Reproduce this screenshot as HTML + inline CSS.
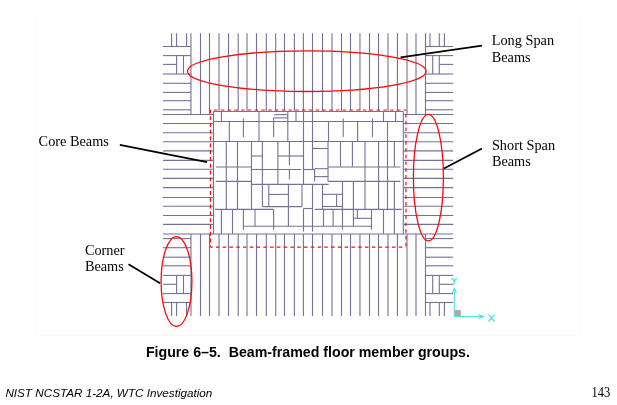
<!DOCTYPE html>
<html><head><meta charset="utf-8"><style>
html,body{margin:0;padding:0;background:#fff;}
body{width:617px;height:405px;overflow:hidden;position:relative;}
svg{position:absolute;left:0;top:0;will-change:transform;}
</style></head><body>
<svg width="617" height="405" viewBox="0 0 617 405">
<path d="M36.5 14V335.4H579.3V13.3" fill="none" stroke="#f9f9f9" stroke-width="0.7"/>
<g stroke="#73709a" stroke-width="1.1" fill="none">
<line x1="190.95" y1="33.2" x2="190.95" y2="114.5"/>
<line x1="190.95" y1="234.0" x2="190.95" y2="316.0"/>
<line x1="200.5" y1="33.2" x2="200.5" y2="114.5"/>
<line x1="200.5" y1="234.0" x2="200.5" y2="316.0"/>
<line x1="209.5" y1="33.2" x2="209.5" y2="114.5"/>
<line x1="209.5" y1="234.0" x2="209.5" y2="316.0"/>
<line x1="219.0" y1="33.2" x2="219.0" y2="111.5"/>
<line x1="219.0" y1="234.0" x2="219.0" y2="316.0"/>
<line x1="228.5" y1="33.2" x2="228.5" y2="111.5"/>
<line x1="228.5" y1="234.0" x2="228.5" y2="316.0"/>
<line x1="238.2" y1="33.2" x2="238.2" y2="111.5"/>
<line x1="238.2" y1="234.0" x2="238.2" y2="316.0"/>
<line x1="247.0" y1="33.2" x2="247.0" y2="111.5"/>
<line x1="247.0" y1="234.0" x2="247.0" y2="316.0"/>
<line x1="256.5" y1="33.2" x2="256.5" y2="111.5"/>
<line x1="256.5" y1="234.0" x2="256.5" y2="316.0"/>
<line x1="266.3" y1="33.2" x2="266.3" y2="111.5"/>
<line x1="266.3" y1="234.0" x2="266.3" y2="316.0"/>
<line x1="275.7" y1="33.2" x2="275.7" y2="111.5"/>
<line x1="275.7" y1="234.0" x2="275.7" y2="316.0"/>
<line x1="284.5" y1="33.2" x2="284.5" y2="111.5"/>
<line x1="284.5" y1="234.0" x2="284.5" y2="316.0"/>
<line x1="294.4" y1="33.2" x2="294.4" y2="111.5"/>
<line x1="294.4" y1="234.0" x2="294.4" y2="316.0"/>
<line x1="303.4" y1="33.2" x2="303.4" y2="111.5"/>
<line x1="303.4" y1="234.0" x2="303.4" y2="316.0"/>
<line x1="312.5" y1="33.2" x2="312.5" y2="111.5"/>
<line x1="312.5" y1="234.0" x2="312.5" y2="316.0"/>
<line x1="322.5" y1="33.2" x2="322.5" y2="111.5"/>
<line x1="322.5" y1="234.0" x2="322.5" y2="316.0"/>
<line x1="332.0" y1="33.2" x2="332.0" y2="111.5"/>
<line x1="332.0" y1="234.0" x2="332.0" y2="316.0"/>
<line x1="341.5" y1="33.2" x2="341.5" y2="111.5"/>
<line x1="341.5" y1="234.0" x2="341.5" y2="316.0"/>
<line x1="350.5" y1="33.2" x2="350.5" y2="111.5"/>
<line x1="350.5" y1="234.0" x2="350.5" y2="316.0"/>
<line x1="359.95" y1="33.2" x2="359.95" y2="111.5"/>
<line x1="359.95" y1="234.0" x2="359.95" y2="316.0"/>
<line x1="369.5" y1="33.2" x2="369.5" y2="111.5"/>
<line x1="369.5" y1="234.0" x2="369.5" y2="316.0"/>
<line x1="378.5" y1="33.2" x2="378.5" y2="111.5"/>
<line x1="378.5" y1="234.0" x2="378.5" y2="316.0"/>
<line x1="388.0" y1="33.2" x2="388.0" y2="111.5"/>
<line x1="388.0" y1="234.0" x2="388.0" y2="316.0"/>
<line x1="397.4" y1="33.2" x2="397.4" y2="111.5"/>
<line x1="397.4" y1="234.0" x2="397.4" y2="316.0"/>
<line x1="407.0" y1="33.2" x2="407.0" y2="114.5"/>
<line x1="407.0" y1="234.0" x2="407.0" y2="316.0"/>
<line x1="416.0" y1="33.2" x2="416.0" y2="114.5"/>
<line x1="416.0" y1="234.0" x2="416.0" y2="316.0"/>
<line x1="425.5" y1="33.2" x2="425.5" y2="114.5"/>
<line x1="425.5" y1="234.0" x2="425.5" y2="316.0"/>
<line x1="163.0" y1="46.5" x2="190.95" y2="46.5"/>
<line x1="425.5" y1="46.5" x2="453.2" y2="46.5"/>
<line x1="163.0" y1="55.6" x2="190.95" y2="55.6"/>
<line x1="425.5" y1="55.6" x2="453.2" y2="55.6"/>
<line x1="163.0" y1="74.0" x2="190.95" y2="74.0"/>
<line x1="425.5" y1="74.0" x2="453.2" y2="74.0"/>
<line x1="163.0" y1="83.3" x2="190.95" y2="83.3"/>
<line x1="425.5" y1="83.3" x2="453.2" y2="83.3"/>
<line x1="163.0" y1="92.4" x2="190.95" y2="92.4"/>
<line x1="425.5" y1="92.4" x2="453.2" y2="92.4"/>
<line x1="163.0" y1="100.7" x2="190.95" y2="100.7"/>
<line x1="425.5" y1="100.7" x2="453.2" y2="100.7"/>
<line x1="163.0" y1="109.8" x2="190.95" y2="109.8"/>
<line x1="425.5" y1="109.8" x2="453.2" y2="109.8"/>
<line x1="163.0" y1="238.6" x2="190.95" y2="238.6"/>
<line x1="425.5" y1="238.6" x2="453.2" y2="238.6"/>
<line x1="163.0" y1="247.7" x2="190.95" y2="247.7"/>
<line x1="425.5" y1="247.7" x2="453.2" y2="247.7"/>
<line x1="163.0" y1="257.2" x2="190.95" y2="257.2"/>
<line x1="425.5" y1="257.2" x2="453.2" y2="257.2"/>
<line x1="163.0" y1="265.8" x2="190.95" y2="265.8"/>
<line x1="425.5" y1="265.8" x2="453.2" y2="265.8"/>
<line x1="163.0" y1="275.4" x2="190.95" y2="275.4"/>
<line x1="425.5" y1="275.4" x2="453.2" y2="275.4"/>
<line x1="163.0" y1="293.6" x2="190.95" y2="293.6"/>
<line x1="425.5" y1="293.6" x2="453.2" y2="293.6"/>
<line x1="163.0" y1="302.5" x2="190.95" y2="302.5"/>
<line x1="425.5" y1="302.5" x2="453.2" y2="302.5"/>
<line x1="163.0" y1="114.5" x2="213.5" y2="114.5"/>
<line x1="403.3" y1="114.5" x2="453.2" y2="114.5"/>
<line x1="163.0" y1="123.5" x2="213.5" y2="123.5"/>
<line x1="403.3" y1="123.5" x2="453.2" y2="123.5"/>
<line x1="163.0" y1="132.7" x2="213.5" y2="132.7"/>
<line x1="403.3" y1="132.7" x2="453.2" y2="132.7"/>
<line x1="163.0" y1="141.7" x2="213.5" y2="141.7"/>
<line x1="403.3" y1="141.7" x2="453.2" y2="141.7"/>
<line x1="163.0" y1="150.9" x2="213.5" y2="150.9"/>
<line x1="403.3" y1="150.9" x2="453.2" y2="150.9"/>
<line x1="163.0" y1="160.4" x2="213.5" y2="160.4"/>
<line x1="403.3" y1="160.4" x2="453.2" y2="160.4"/>
<line x1="163.0" y1="169.3" x2="213.5" y2="169.3"/>
<line x1="403.3" y1="169.3" x2="453.2" y2="169.3"/>
<line x1="163.0" y1="178.4" x2="213.5" y2="178.4"/>
<line x1="403.3" y1="178.4" x2="453.2" y2="178.4"/>
<line x1="163.0" y1="187.6" x2="213.5" y2="187.6"/>
<line x1="403.3" y1="187.6" x2="453.2" y2="187.6"/>
<line x1="163.0" y1="197.5" x2="213.5" y2="197.5"/>
<line x1="403.3" y1="197.5" x2="453.2" y2="197.5"/>
<line x1="163.0" y1="206.3" x2="213.5" y2="206.3"/>
<line x1="403.3" y1="206.3" x2="453.2" y2="206.3"/>
<line x1="163.0" y1="215.5" x2="213.5" y2="215.5"/>
<line x1="403.3" y1="215.5" x2="453.2" y2="215.5"/>
<line x1="163.0" y1="224.4" x2="213.5" y2="224.4"/>
<line x1="403.3" y1="224.4" x2="453.2" y2="224.4"/>
<line x1="163.0" y1="234.0" x2="453.2" y2="234.0"/>
<line x1="163.0" y1="64.4" x2="176.6" y2="64.4"/>
<line x1="439.3" y1="64.4" x2="453.2" y2="64.4"/>
<line x1="163.0" y1="284.3" x2="176.7" y2="284.3"/>
<line x1="439.3" y1="284.3" x2="453.2" y2="284.3"/>
<line x1="171.6" y1="33.2" x2="171.6" y2="46.5"/>
<line x1="171.6" y1="302.5" x2="171.6" y2="316.0"/>
<line x1="176.6" y1="33.2" x2="176.6" y2="46.5"/>
<line x1="176.6" y1="302.5" x2="176.6" y2="316.0"/>
<line x1="186.6" y1="33.2" x2="186.6" y2="46.5"/>
<line x1="186.6" y1="302.5" x2="186.6" y2="316.0"/>
<line x1="430.0" y1="33.2" x2="430.0" y2="46.5"/>
<line x1="430.0" y1="302.5" x2="430.0" y2="316.0"/>
<line x1="439.3" y1="33.2" x2="439.3" y2="46.5"/>
<line x1="439.3" y1="302.5" x2="439.3" y2="316.0"/>
<line x1="444.4" y1="33.2" x2="444.4" y2="46.5"/>
<line x1="444.4" y1="302.5" x2="444.4" y2="316.0"/>
<line x1="176.6" y1="55.6" x2="176.6" y2="74.1"/>
<line x1="176.6" y1="275.4" x2="176.6" y2="293.6"/>
<line x1="183.5" y1="55.6" x2="183.5" y2="74.1"/>
<line x1="183.5" y1="275.4" x2="183.5" y2="293.6"/>
<line x1="432.7" y1="55.6" x2="432.7" y2="74.1"/>
<line x1="432.7" y1="275.4" x2="432.7" y2="293.6"/>
<line x1="439.3" y1="55.6" x2="439.3" y2="74.1"/>
<line x1="439.3" y1="275.4" x2="439.3" y2="293.6"/>
<line x1="213.5" y1="111.5" x2="403.3" y2="111.5"/>
<line x1="213.5" y1="111.5" x2="213.5" y2="234.0"/>
<line x1="403.3" y1="111.5" x2="403.3" y2="234.0"/>
<line x1="213.5" y1="121.5" x2="403.3" y2="121.5"/>
<line x1="213.5" y1="141.5" x2="403.3" y2="141.5"/>
<line x1="221.4" y1="111.5" x2="221.4" y2="121.2"/>
<line x1="259.0" y1="111.5" x2="259.0" y2="141.5"/>
<line x1="287.8" y1="111.5" x2="287.8" y2="141.3"/>
<line x1="296.0" y1="111.5" x2="296.0" y2="121.2"/>
<line x1="383.5" y1="111.5" x2="383.5" y2="121.2"/>
<line x1="395.6" y1="111.5" x2="395.6" y2="121.2"/>
<line x1="303.5" y1="111.5" x2="303.5" y2="184.4"/>
<line x1="312.5" y1="111.5" x2="312.5" y2="169.5"/>
<line x1="274.3" y1="114.7" x2="287.8" y2="114.7"/>
<line x1="273.6" y1="117.9" x2="287.8" y2="117.9"/>
<line x1="229.3" y1="121.2" x2="229.3" y2="141.3"/>
<line x1="243.4" y1="118.4" x2="243.4" y2="136.9"/>
<line x1="273.6" y1="117.9" x2="273.6" y2="136.9"/>
<line x1="328.5" y1="121.5" x2="328.5" y2="141.5"/>
<line x1="328.0" y1="141.5" x2="328.0" y2="181.4"/>
<line x1="343.2" y1="118.4" x2="343.2" y2="136.9"/>
<line x1="357.6" y1="121.2" x2="357.6" y2="141.3"/>
<line x1="372.5" y1="118.4" x2="372.5" y2="136.8"/>
<line x1="387.5" y1="121.2" x2="387.5" y2="209.4"/>
<line x1="226.3" y1="141.3" x2="226.3" y2="209.4"/>
<line x1="237.5" y1="141.3" x2="237.5" y2="209.4"/>
<line x1="251.5" y1="141.3" x2="251.5" y2="209.4"/>
<line x1="262.4" y1="141.3" x2="262.4" y2="206.6"/>
<line x1="277.9" y1="141.3" x2="277.9" y2="184.4"/>
<line x1="289.4" y1="141.3" x2="289.4" y2="165.2"/>
<line x1="289.4" y1="169.5" x2="289.4" y2="179.6"/>
<line x1="340.5" y1="141.3" x2="340.5" y2="166.5"/>
<line x1="352.4" y1="141.3" x2="352.4" y2="166.5"/>
<line x1="365.0" y1="141.3" x2="365.0" y2="209.4"/>
<line x1="378.6" y1="141.3" x2="378.6" y2="209.4"/>
<line x1="394.4" y1="141.3" x2="394.4" y2="166.5"/>
<line x1="251.5" y1="156.0" x2="262.4" y2="156.0"/>
<line x1="277.9" y1="156.0" x2="303.5" y2="156.0"/>
<line x1="312.5" y1="148.5" x2="328.0" y2="148.5"/>
<line x1="215.9" y1="167.0" x2="251.5" y2="167.0"/>
<line x1="328.0" y1="167.0" x2="400.5" y2="167.0"/>
<line x1="251.5" y1="169.5" x2="301.0" y2="169.5"/>
<line x1="303.5" y1="169.5" x2="314.6" y2="169.5"/>
<line x1="314.6" y1="168.7" x2="328.2" y2="168.7"/>
<line x1="314.6" y1="176.6" x2="328.2" y2="176.6"/>
<line x1="314.6" y1="168.7" x2="314.6" y2="181.4"/>
<line x1="215.9" y1="181.4" x2="251.5" y2="181.4"/>
<line x1="328.2" y1="181.4" x2="400.3" y2="181.4"/>
<line x1="251.5" y1="184.4" x2="328.7" y2="184.4"/>
<line x1="268.8" y1="184.4" x2="268.8" y2="206.6"/>
<line x1="288.4" y1="184.4" x2="288.4" y2="226.2"/>
<line x1="302.0" y1="184.4" x2="302.0" y2="206.6"/>
<line x1="312.5" y1="184.4" x2="312.5" y2="231.5"/>
<line x1="322.5" y1="184.4" x2="322.5" y2="209.4"/>
<line x1="342.5" y1="181.4" x2="342.5" y2="229.7"/>
<line x1="336.6" y1="194.3" x2="336.6" y2="206.4"/>
<line x1="353.4" y1="181.4" x2="353.4" y2="226.2"/>
<line x1="394.4" y1="181.4" x2="394.4" y2="234.0"/>
<line x1="268.8" y1="194.4" x2="288.4" y2="194.4"/>
<line x1="322.5" y1="194.3" x2="342.5" y2="194.3"/>
<line x1="262.4" y1="206.6" x2="302.0" y2="206.6"/>
<line x1="322.5" y1="206.5" x2="342.5" y2="206.5"/>
<line x1="215.0" y1="209.4" x2="273.6" y2="209.4"/>
<line x1="303.5" y1="208.5" x2="312.5" y2="208.5"/>
<line x1="314.8" y1="209.4" x2="401.8" y2="209.4"/>
<line x1="221.4" y1="209.4" x2="221.4" y2="234.0"/>
<line x1="232.5" y1="209.4" x2="232.5" y2="234.0"/>
<line x1="243.4" y1="209.3" x2="243.4" y2="229.7"/>
<line x1="255.0" y1="209.3" x2="255.0" y2="226.2"/>
<line x1="273.6" y1="209.4" x2="273.6" y2="229.7"/>
<line x1="303.5" y1="208.5" x2="303.5" y2="231.5"/>
<line x1="323.5" y1="209.4" x2="323.5" y2="226.2"/>
<line x1="333.1" y1="209.4" x2="333.1" y2="226.2"/>
<line x1="357.4" y1="209.4" x2="357.4" y2="218.3"/>
<line x1="371.5" y1="209.4" x2="371.5" y2="229.7"/>
<line x1="383.5" y1="209.4" x2="383.5" y2="234.0"/>
<line x1="243.4" y1="226.2" x2="371.5" y2="226.2"/>
<line x1="353.4" y1="218.3" x2="371.5" y2="218.3"/>
</g>
<g fill="none" stroke="#ff0808" stroke-width="1.3">
<g stroke-dasharray="3.5 3.275" stroke-width="1.2">
<line x1="210.4" y1="110.0" x2="405.95" y2="110.0" stroke-dashoffset="3.225"/>
<line x1="210.4" y1="247.05" x2="405.95" y2="247.05" stroke-dashoffset="1.275"/>
<line x1="210.45" y1="110.0" x2="210.45" y2="247.05" stroke-dashoffset="0.6" stroke-dasharray="3.9 2.9"/>
<line x1="405.95" y1="110.0" x2="405.95" y2="247.05" stroke-dashoffset="2.775" stroke-dasharray="3.6 3.175"/>
</g>
<ellipse cx="306.8" cy="71.2" rx="119.3" ry="20.3"/>
<ellipse cx="428.4" cy="177.6" rx="15.0" ry="63.3"/>
<ellipse cx="176.5" cy="281.6" rx="15.4" ry="44.9"/>
</g>
<g stroke="#000" stroke-width="1.75" stroke-linecap="butt">
<line x1="400.6" y1="57.4" x2="482.0" y2="45.6"/>
<line x1="443.9" y1="168.6" x2="482.0" y2="148.6"/>
<line x1="119.8" y1="144.8" x2="207.1" y2="162.1"/>
<line x1="128.5" y1="264.2" x2="160.1" y2="283.3"/>
</g>
<g stroke="#50e0e0" stroke-width="1.1" fill="none">
<line x1="454.3" y1="288.6" x2="454.3" y2="316.6"/>
<line x1="454.3" y1="316.6" x2="483.4" y2="316.6"/>
<polyline points="452.1,293 454.3,288.6 456.5,293"/>
<polyline points="478.4,314.4 483.4,316.6 478.4,318.8"/>
<g stroke-width="1.4"><line x1="488.5" y1="314.6" x2="494.5" y2="321.6"/>
<line x1="494.5" y1="314.6" x2="488.5" y2="321.6"/>
<polyline points="451.6,278 454.2,281.2 456.8,278"/>
<line x1="454.2" y1="281.2" x2="454.2" y2="284.4"/></g>
</g>
<rect x="454.6" y="310" width="6.2" height="6" fill="#ababab"/>
<g font-family="Liberation Serif" font-size="14.3" fill="#000">
<text x="491.7" y="45.0">Long Span</text>
<text x="491.7" y="61.5">Beams</text>
<text x="491.9" y="149.8">Short Span</text>
<text x="491.9" y="166.0">Beams</text>
<text x="38.6" y="145.7">Core Beams</text>
<text x="84.9" y="255.1">Corner</text>
<text x="84.9" y="270.5">Beams</text>
</g>
<text x="145.9" y="357.1" font-family="Liberation Sans" font-weight="bold" font-size="14.2" xml:space="preserve">Figure 6–5.  Beam-framed floor member groups.</text>
<text x="5.4" y="396.7" font-family="Liberation Sans" font-style="italic" font-size="11.7">NIST NCSTAR 1-2A, WTC Investigation</text>
<text transform="translate(591.5 397.1) scale(0.92 1.05)" font-family="Liberation Serif" font-size="13.5">143</text>
</svg>
</body></html>
